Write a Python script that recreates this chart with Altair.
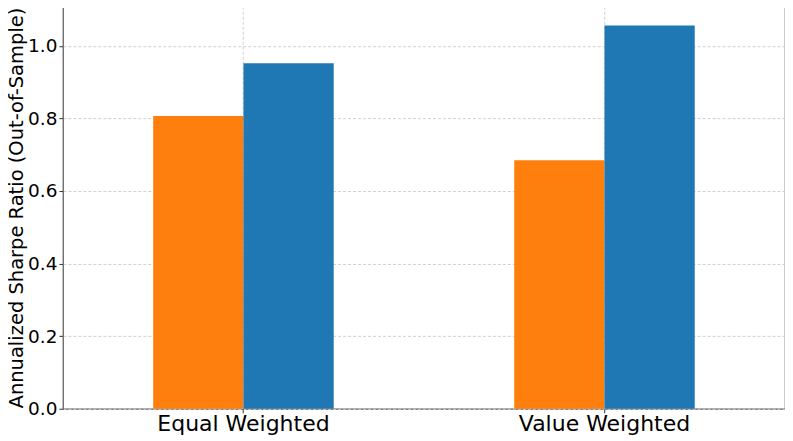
import altair as alt
import pandas as pd

categories = ["Equal Weighted", "Value Weighted"]
series = ["Series A", "Series B"]
series_a = [0.807, 0.685]
series_b = [0.952, 1.056]
colors = ["#ff7f0e", "#1f77b4"]

rows = []
for i, c in enumerate(categories):
    rows.append({"category": c, "series": series[0], "value": series_a[i]})
    rows.append({"category": c, "series": series[1], "value": series_b[i]})
df = pd.DataFrame(rows)

chart = alt.Chart(df).mark_bar().encode(
    x=alt.X("category:N", sort=categories, title=None,
            scale=alt.Scale(paddingInner=0.5, paddingOuter=0.25),
            axis=alt.Axis(labelAngle=0, labelFontSize=22, bandPosition=0.5,
                          grid=True, gridDash=[3, 2], gridColor="#d0d0d0",
                          tickSize=4, tickColor="#333", labelPadding=1,
                          domain=False, labelColor="#000")),
    xOffset=alt.XOffset("series:N", sort=series, scale=alt.Scale(paddingInner=0, paddingOuter=0)),
    y=alt.Y("value:Q", title="Annualized Sharpe Ratio (Out-of-Sample)",
            scale=alt.Scale(domain=[0, 1.109], nice=False, zero=True),
            axis=alt.Axis(values=[0, 0.2, 0.4, 0.6, 0.8, 1.0], format=".1f",
                          labelFontSize=18.5, titleFontSize=19.5, titleFontWeight="normal",
                          titleColor="#000", labelColor="#000",
                          grid=True, gridDash=[3, 2], gridColor="#d0d0d0",
                          tickSize=4, tickColor="#333", labelPadding=2,
                          titlePadding=1, domain=False)),
    color=alt.Color("series:N", sort=series,
                    scale=alt.Scale(domain=series, range=colors), legend=None),
).properties(
    width=723, height=403,
    autosize=alt.AutoSizeParams(type="none"),
    padding={"left": 55, "top": -2, "right": 0, "bottom": 30},
).configure_view(
    stroke="#555", strokeWidth=1.2
).configure_axis(
    labelFont="DejaVu Sans", titleFont="DejaVu Sans"
)

chart.save("out.html", embed_options={"renderer": "svg", "actions": False})
